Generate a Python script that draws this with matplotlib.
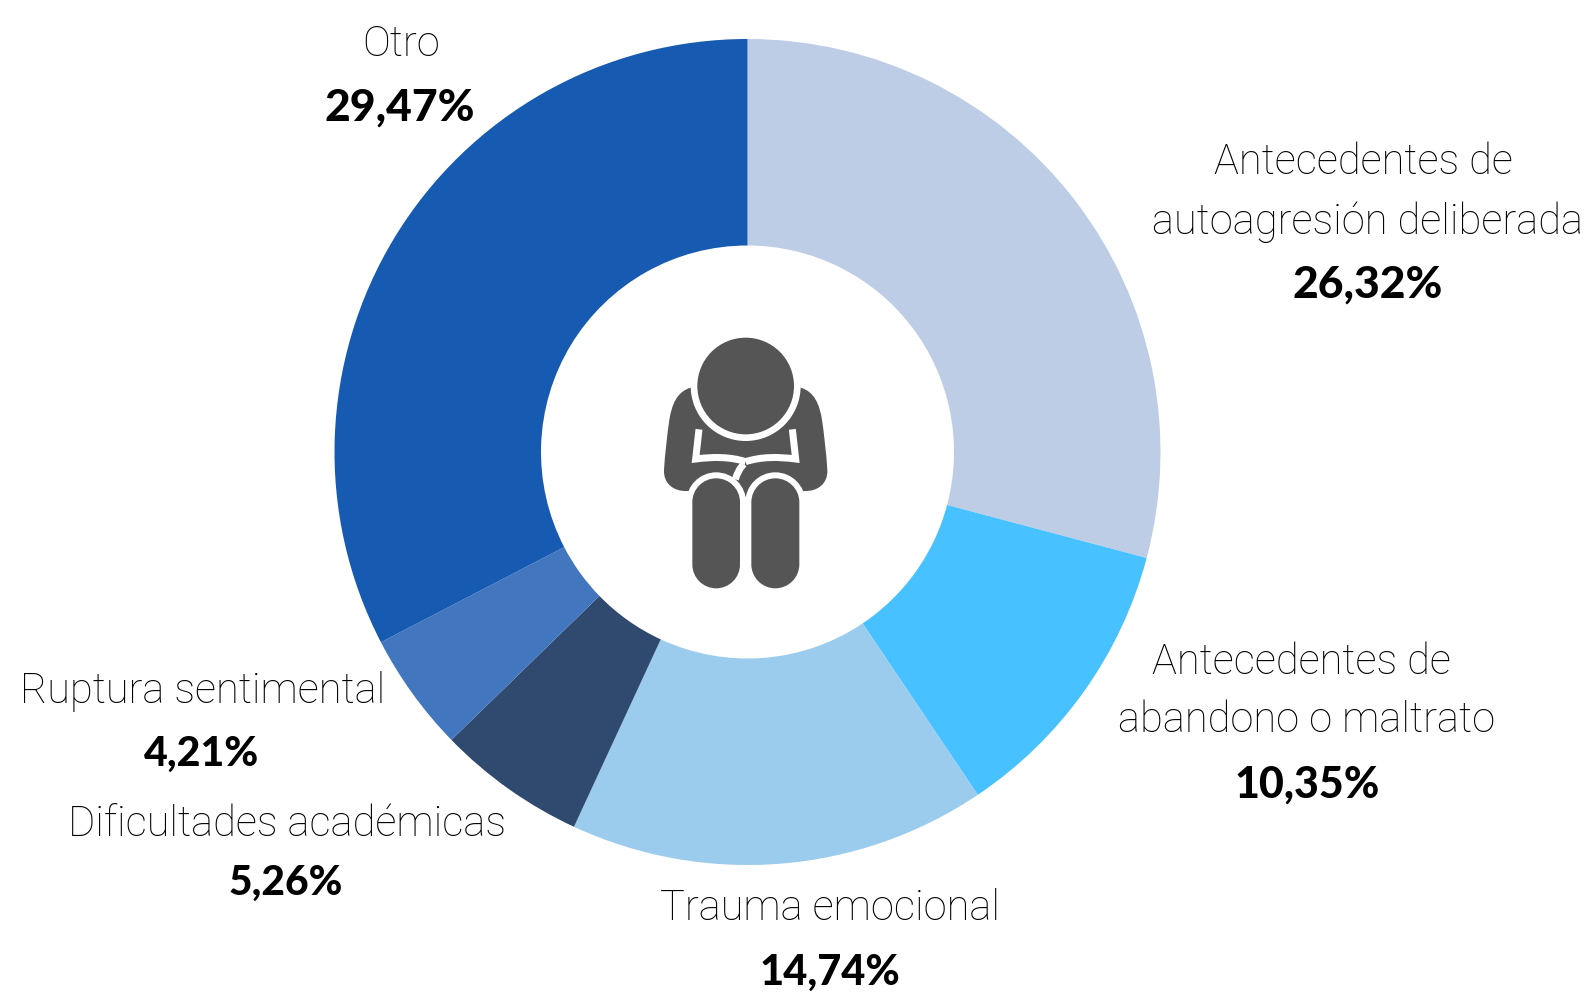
import matplotlib
matplotlib.use('Agg')
import matplotlib.pyplot as plt
from matplotlib.patches import Circle, PathPatch
from matplotlib.path import Path

categories = [
    ['Antecedentes de', 'autoagresión deliberada'],
    ['Antecedentes de', 'abandono o maltrato'],
    ['Trauma emocional'],
    ['Dificultades académicas'],
    ['Ruptura sentimental'],
    ['Otro'],
]
values = [26.32, 10.35, 14.74, 5.26, 4.21, 29.47]
colors = ['#BDCDE5', '#47C1FF', '#9BCBED', '#2F496F', '#4277BF', '#175AB1']

W, H = 1596, 992
GRAY = '#555555'

fig = plt.figure(figsize=(W / 100, H / 100), dpi=100)
ax = fig.add_axes([0, 0, 1, 1])
ax.pie(values, colors=colors, startangle=90, counterclock=False,
       center=(747.5, H - 452), radius=413, wedgeprops={'width': 206.5})
ax.set_xlim(0, W)
ax.set_ylim(0, H)
ax.set_aspect('equal')
ax.axis('off')

# texto: centro de cada línea en píxeles (y desde arriba)
label_pos = [
    ((1363, 163), (1367, 222), (1368, 285)),
    ((1301, 662), (1307, 721), (1307, 785)),
    ((830, 909), (830, 973)),
    ((287, 825), (286, 883)),
    ((202.5, 691), (201.5, 754)),
    ((401, 44), (400, 108)),
]
pct_size = [32, 31, 30, 29.3, 29.6, 32]

for lines, v, pos, size in zip(categories, values, label_pos, pct_size):
    for s, (x, y) in zip(lines, pos):
        ax.text(x, H - y, s, ha='center', va='center', family='Roboto',
                fontsize=30, fontweight='light', color='black')
    x, y = pos[-1]
    ax.text(x, H - y, f'{v:.2f}%'.replace('.', ','), ha='center', va='center',
            family='Lato', fontsize=size, fontweight='black', color='black')


# icono: coordenadas tomadas del recorte 3x
def pt(zx, zy):
    return 640 + zx / 3, H - (320 + zy / 3)


def curve(start, segs, closed=False):
    verts = [pt(*start)]
    codes = [Path.MOVETO]
    for seg in segs:
        if len(seg) == 2:
            verts.append(pt(*seg))
            codes.append(Path.LINETO)
        else:
            verts += [pt(seg[0], seg[1]), pt(seg[2], seg[3]), pt(seg[4], seg[5])]
            codes += [Path.CURVE4] * 3
    if closed:
        verts.append(verts[0])
        codes.append(Path.CLOSEPOLY)
    return Path(verts, codes)


def stadium(x0, x1, top, bottom):
    r = (x1 - x0) / 2
    k = r * 0.5523
    xc = (x0 + x1) / 2
    return curve((x0, top + r), [
        (x0, top + r - k, xc - k, top, xc, top),
        (xc + k, top, x1, top + r - k, x1, top + r),
        (x1, bottom - r),
        (x1, bottom - r + k, xc + k, bottom, xc, bottom),
        (xc - k, bottom, x0, bottom - r + k, x0, bottom - r)], closed=True)


body = curve((152, 203), [
    (110, 215, 95, 255, 88, 300), (82, 340, 75, 400, 72, 450),
    (70, 490, 100, 515, 142, 513), (317, 530), (492, 513),
    (534, 515, 564, 490, 562, 450), (559, 400, 552, 340, 546, 300),
    (539, 255, 524, 215, 482, 203), (317, 100)], closed=True)
ax.add_patch(PathPatch(body, fc=GRAY, ec='none', zorder=3))

lw_white = 21 / 3 * 0.72
left = curve((177, 328), [(167, 417), (220, 410, 270, 410, 317, 425)])
right = curve((457, 328), [(467, 417), (414, 410, 364, 410, 317, 425)])
diag = curve((312, 432), [(298, 445, 292, 460, 286, 478)])
for p in (left, right, diag):
    ax.add_patch(PathPatch(p, fc='none', ec='white', lw=lw_white, capstyle='butt', zorder=4))

hx, hy = pt(317, 198)
ax.add_patch(Circle((hx, hy), 165 / 3, fc='white', ec='none', zorder=5))
ax.add_patch(Circle((hx, hy), 145 / 3, fc=GRAY, ec='none', zorder=6))

for zx0, zx1 in ((157, 300), (334, 478)):
    ax.add_patch(PathPatch(stadium(zx0 - 18, zx1 + 18, 475 - 18, 805 + 18), fc='white', ec='none', zorder=5))
for zx0, zx1 in ((157, 300), (334, 478)):
    ax.add_patch(PathPatch(stadium(zx0, zx1, 475, 805), fc=GRAY, ec='none', zorder=6))

plt.savefig('out.png', dpi=100)
